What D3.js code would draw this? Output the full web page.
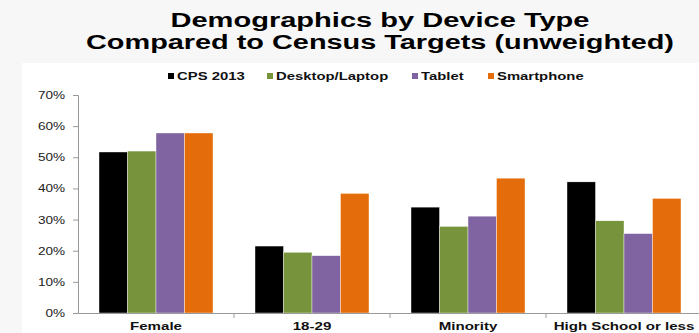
<!DOCTYPE html>
<html>
<head>
<meta charset="utf-8">
<script src="https://cdn.jsdelivr.net/npm/d3@7"></script>
<style>
  body { margin: 0; background: #f7f7f7; }
  svg { display: block; }
  text { font-family: "Liberation Sans", Arial, sans-serif; }
</style>
</head>
<body>
<svg id="chart" width="699" height="333"></svg>
<script>
// chart data
const categories = ["Female", "18-29", "Minority", "High School or less"];
const seriesNames = ["CPS 2013", "Desktop/Laptop", "Tablet", "Smartphone"];
const cps2013 = [0.517, 0.215, 0.340, 0.421];
const desktop = [0.520, 0.195, 0.278, 0.296];
const tablet = [0.578, 0.184, 0.311, 0.255];
const smartphone = [0.578, 0.384, 0.433, 0.368];
const colors = ["#000000", "#77933c", "#8064a2", "#e46c0a"];
const yTicks = [0, 0.1, 0.2, 0.3, 0.4, 0.5, 0.6, 0.7];

const seriesValues = [cps2013, desktop, tablet, smartphone];

// the reference text looks stretched sideways, so widen glyphs a bit
function stretch(sel, factor) {
    sel.each(function () {
        const w = this.getComputedTextLength();
        d3.select(this)
            .attr("textLength", w * factor)
            .attr("lengthAdjust", "spacingAndGlyphs");
    });
}

const svg = d3.select("#chart");

// white panel
svg.append("rect")
    .attr("x", 22).attr("y", 63)
    .attr("width", 699 - 22).attr("height", 333 - 63)
    .attr("fill", "#ffffff");

// title
const titleLines = ["Demographics by Device Type", "Compared to Census Targets (unweighted)"];
const titleWidths = [419, 588];
svg.selectAll(".title")
    .data(titleLines)
    .enter()
    .append("text")
    .attr("class", "title")
    .attr("x", 380)
    .attr("y", (d, i) => 27 + i * 22)
    .attr("text-anchor", "middle")
    .attr("font-size", 20)
    .attr("font-weight", "bold")
    .attr("textLength", (d, i) => titleWidths[i])
    .attr("lengthAdjust", "spacingAndGlyphs")
    .attr("fill", "#000")
    .text(d => d);

// scales
const x0 = d3.scaleBand()
    .domain(categories)
    .range([78, 702]);

const x1 = d3.scaleBand()
    .domain(seriesNames)
    .range([0, x0.bandwidth()])
    .paddingOuter(0.737);

const y = d3.scaleLinear()
    .domain([0, 0.7])
    .range([313, 95]);

// y axis
const yAxis = d3.axisLeft(y)
    .tickValues(yTicks)
    .tickFormat(d3.format(".0%"))
    .tickSize(5)
    .tickPadding(8);

const gy = svg.append("g")
    .attr("transform", "translate(78,0)")
    .call(yAxis);
gy.select(".domain").attr("stroke", "#999");
gy.selectAll(".tick line").attr("stroke", "#999");
gy.selectAll(".tick text")
    .attr("font-size", 11)
    .attr("fill", "#222")
    .attr("font-family", "'Liberation Sans', Arial, sans-serif")
    .call(stretch, 1.23);

// bars
const groups = svg.selectAll(".group")
    .data(categories)
    .enter()
    .append("g")
    .attr("class", "group")
    .attr("transform", d => `translate(${x0(d)},0)`);

groups.selectAll("rect")
    .data((d, ci) => seriesNames.map((s, si) => ({ s: s, si: si, v: seriesValues[si][ci] })))
    .enter()
    .append("rect")
    .attr("x", d => x1(d.s))
    .attr("y", d => y(d.v))
    .attr("width", x1.bandwidth())
    .attr("height", d => y(0) - y(d.v))
    .attr("fill", d => colors[d.si])
    .attr("stroke", "#ffffff")
    .attr("stroke-width", 0.4);

// x axis
const xAxis = d3.axisBottom(x0)
    .tickSize(0)
    .tickPadding(9);

const gx = svg.append("g")
    .attr("transform", `translate(0,${y(0)})`)
    .call(xAxis);
gx.select(".domain").attr("stroke", "#999");
gx.selectAll(".tick text")
    .attr("font-size", 11)
    .attr("font-weight", "bold")
    .attr("fill", "#111")
    .attr("font-family", "'Liberation Sans', Arial, sans-serif")
    .call(stretch, 1.37);

// category separator ticks
gx.selectAll(".sep")
    .data(categories.slice(1))
    .enter()
    .append("line")
    .attr("class", "sep")
    .attr("x1", d => x0(d))
    .attr("x2", d => x0(d))
    .attr("y1", 0)
    .attr("y2", 5)
    .attr("stroke", "#999");

// legend
const legendX = [168, 267, 412, 488];
const legend = svg.selectAll(".legend")
    .data(seriesNames)
    .enter()
    .append("g")
    .attr("class", "legend")
    .attr("transform", (d, i) => `translate(${legendX[i]},76)`);

legend.append("rect")
    .attr("x", 0).attr("y", -3)
    .attr("width", 6).attr("height", 6)
    .attr("fill", (d, i) => colors[i]);

legend.append("text")
    .attr("x", 9)
    .attr("y", 4)
    .attr("font-size", 11)
    .attr("font-weight", "bold")
    .attr("fill", "#111")
    .text(d => d)
    .call(stretch, 1.35);
</script>
</body>
</html>
